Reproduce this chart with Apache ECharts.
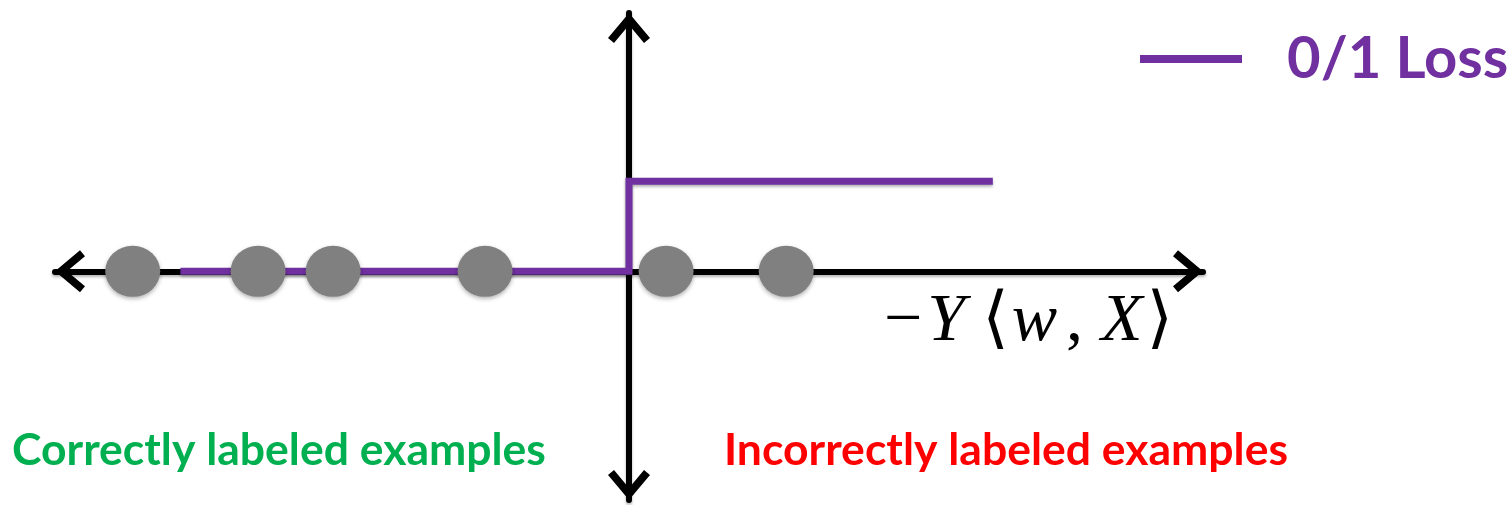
<!DOCTYPE html>
<html>
<head>
<meta charset="utf-8">
<script src="https://cdn.jsdelivr.net/npm/echarts@6/dist/echarts.min.js"></script>
<style>
  html, body { margin: 0; padding: 0; background: #fff; }
  #chart { width: 1510px; height: 505px; }
</style>
</head>
<body>
<div id="chart"></div>
<script>
// 0/1 loss step, in axis units (x: -Y<w,X>, y: loss)
const lossX = [-5.08, 0, 0, 4.12];
const lossY = [0, 0, 1, 1];
// examples sitting on the axis
const correctX = [-5.62, -4.20, -3.35, -1.63];
const incorrectX = [0.42, 1.78];

const lossName = '0/1 Loss';
const leftLabel = 'Correctly labeled examples';
const rightLabel = 'Incorrectly labeled examples';

const purple = '#7030A0';
const gray = '#808080';

// open chevron, pointing up (echarts rotates it along the axis)
const chevron = 'path://M21,0 L42,25 L36,30 L21,12 L6,30 L0,25 Z';

const lossData = lossX.map(function (x, i) { return [x, lossY[i]]; });
const pointData = correctX.concat(incorrectX).map(function (x) { return [x, 0]; });

const axisLineStyle = {
  show: true,
  onZero: true,
  symbol: [chevron, chevron],
  symbolSize: [42, 30],
  symbolOffset: [15, -15],
  lineStyle: {
    color: '#000',
    width: 6,
    shadowColor: 'rgba(0,0,0,0.3)',
    shadowBlur: 3,
    shadowOffsetY: 2
  }
};

const mathFont = 'Liberation Serif, DejaVu Serif';

let option = {
  animation: false,
  grid: {
    left: 55,
    right: 307,
    top: 13,
    bottom: 5
  },
  legend: {
    data: [lossName],
    left: 1140,
    top: 30,
    padding: 0,
    icon: 'rect',
    itemWidth: 102,
    itemHeight: 8,
    formatter: '{t|{name}}',
    textStyle: {
      rich: {
        t: {
          fontFamily: 'Lato',
          fontWeight: 'bold',
          fontSize: 58,
          color: purple,
          padding: [0, 0, 0, 40]
        }
      }
    }
  },
  xAxis: {
    type: 'value',
    min: -6.5,
    max: 6.5,
    axisLine: axisLineStyle,
    axisTick: { show: false },
    axisLabel: { show: false },
    splitLine: { show: false }
  },
  yAxis: {
    type: 'value',
    min: -2.54,
    max: 2.87,
    axisLine: axisLineStyle,
    axisTick: { show: false },
    axisLabel: { show: false },
    splitLine: { show: false }
  },
  series: [
    {
      name: lossName,
      type: 'line',
      data: lossData,
      showSymbol: false,
      color: purple,
      z: 3,
      lineStyle: {
        color: purple,
        width: 7,
        cap: 'butt',
        join: 'miter',
        shadowColor: 'rgba(0,0,0,0.3)',
        shadowBlur: 3,
        shadowOffsetY: 2
      }
    },
    {
      name: 'examples',
      type: 'scatter',
      data: pointData,
      symbol: 'circle',
      symbolSize: [55, 51],
      z: 4,
      itemStyle: {
        color: gray,
        opacity: 1,
        shadowColor: 'rgba(0,0,0,0.3)',
        shadowBlur: 4,
        shadowOffsetY: 2
      }
    }
  ],
  graphic: [
    {
      type: 'text',
      left: 884,
      top: 288,
      style: {
        text: '{n|−}{i|Y}{a|⟨}{i|w}{c|,}{i|X}{n|⟩}',
        rich: {
          n: { fontFamily: mathFont, fontSize: 68, fill: '#000', padding: [0, 5, 0, 0] },
          a: { fontFamily: mathFont, fontSize: 68, fill: '#000', padding: [0, 3, 0, 13] },
          c: { fontFamily: mathFont, fontSize: 68, fill: '#000', padding: [0, 18, 0, 5] },
          i: { fontFamily: mathFont, fontStyle: 'italic', fontSize: 68, fill: '#000', padding: [0, 4, 0, 0] }
        }
      }
    },
    {
      type: 'text',
      left: 12,
      top: 428,
      style: {
        text: leftLabel,
        font: 'bold 44.5px Lato',
        fill: '#00B050'
      }
    },
    {
      type: 'text',
      left: 724,
      top: 428,
      style: {
        text: rightLabel,
        font: 'bold 44.5px Lato',
        fill: '#FF0000'
      }
    }
  ]
};

var chartDom = document.getElementById('chart');
var chart = echarts.init(chartDom);
chart.setOption(option);
</script>
</body>
</html>
